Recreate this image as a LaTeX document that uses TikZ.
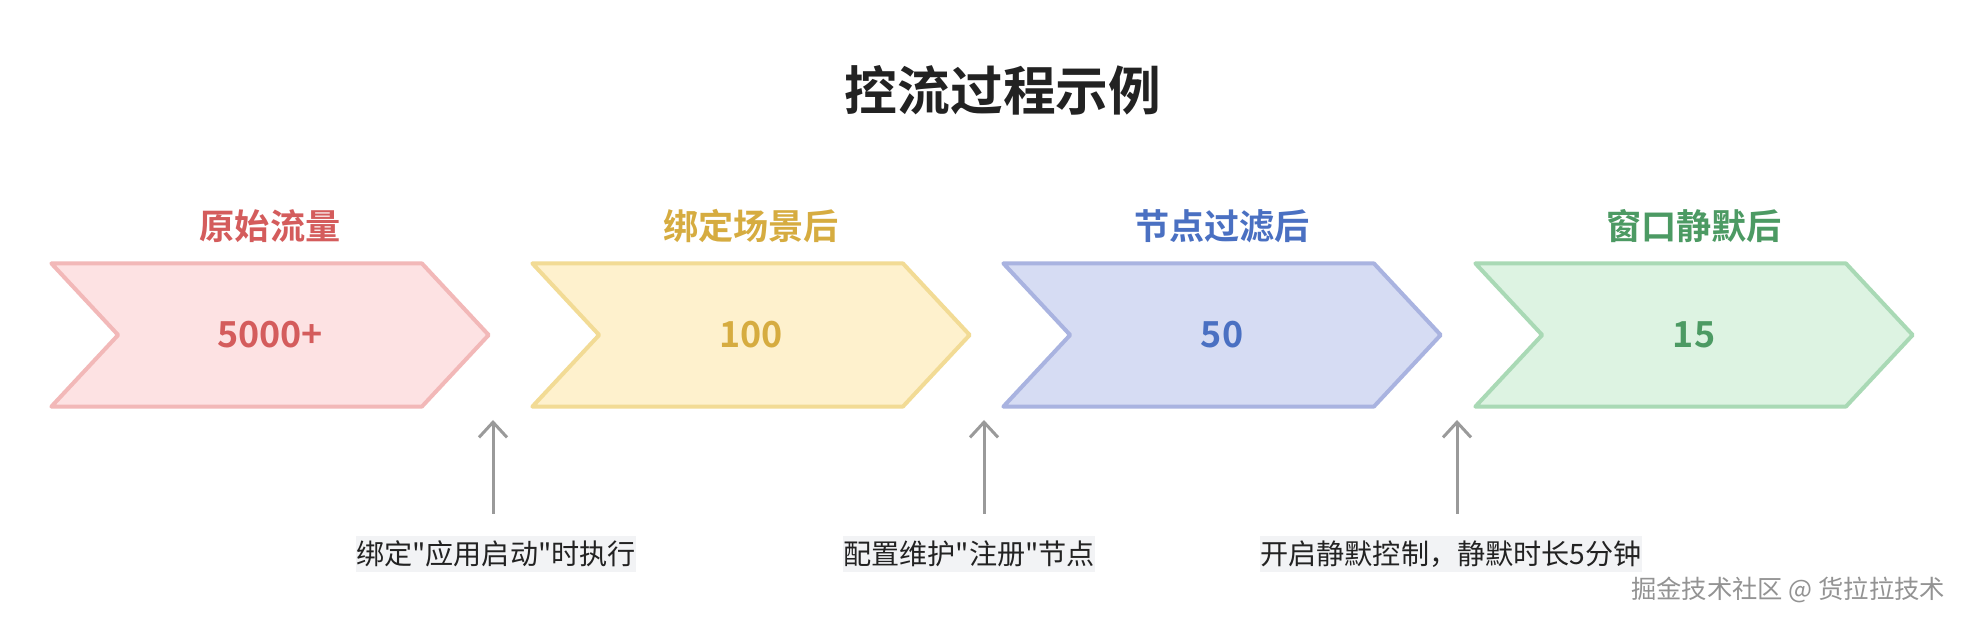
\documentclass[tikz,border=0pt]{standalone}
\usepackage{fontspec}
\setmainfont{Noto Sans CJK SC}[BoldFont={Noto Sans CJK SC Bold}, Ligatures=TeXOff]
\usetikzlibrary{positioning, arrows.meta, shapes.symbols}

\definecolor{redfill}{HTML}{FDE2E3}
\definecolor{redline}{HTML}{F2B8B8}
\definecolor{redtext}{HTML}{D45C5C}
\definecolor{goldfill}{HTML}{FEF1CD}
\definecolor{goldline}{HTML}{F2DB95}
\definecolor{goldtext}{HTML}{D6AC40}
\definecolor{bluefill}{HTML}{D6DCF3}
\definecolor{blueline}{HTML}{A9B3E0}
\definecolor{bluetext}{HTML}{4A70C2}
\definecolor{greenfill}{HTML}{DDF3E2}
\definecolor{greenline}{HTML}{A9D9B5}
\definecolor{greentext}{HTML}{4C9A63}
\definecolor{inkgray}{HTML}{222222}
\definecolor{pointergray}{HTML}{9A9A9A}
\definecolor{notefill}{HTML}{F2F3F5}

\begin{document}
\begin{tikzpicture}[x=0.025cm, y=0.025cm]

  % Styles
  \tikzset{
    stage/.style={
      signal, signal from=west, signal to=east, signal pointer angle=94,
      draw, line width=0.1cm, line join=round,
      minimum width=10.93cm, minimum height=3.58cm, inner sep=0pt,
      font=\fontsize{25.5pt}{30pt}\selectfont\bfseries
    },
    caption/.style={inner sep=0pt, font=\fontsize{25pt}{30pt}\selectfont\bfseries},
    note/.style={
      fill=notefill, inner xsep=0pt, inner ysep=0.12cm,
      text=inkgray, font=\fontsize{20pt}{24pt}\selectfont
    },
    pointer/.style={draw=pointergray, line width=0.075cm, -{Straight Barb[length=0.38cm, width=0.7cm]}}
  }

  % Canvas
  \useasboundingbox[fill=white] (0,0) rectangle (1966,624);

  % Title
  \node (title) [text=inkgray, font=\fontsize{37.5pt}{45pt}\selectfont\bfseries] at (1003,534) {控流过程示例};

  % Stages
  \node (stage1) [stage, draw=redline, fill=redfill, text=redtext] at (270,289) {5000+};
  \node (stage2) [stage, draw=goldline, fill=goldfill, text=goldtext] at (751,289) {100};
  \node (stage3) [stage, draw=blueline, fill=bluefill, text=bluetext] at (1222,289) {50};
  \node (stage4) [stage, draw=greenline, fill=greenfill, text=greentext] at (1694,289) {15};

  % Stage captions
  \node (head1) [caption, text=redtext, above=0.45cm of stage1] {原始流量};
  \node (head2) [caption, text=goldtext, above=0.45cm of stage2] {绑定场景后};
  \node (head3) [caption, text=bluetext, above=0.45cm of stage3] {节点过滤后};
  \node (head4) [caption, text=greentext, above=0.45cm of stage4] {窗口静默后};

  % Notes under the gaps
  \node (note1) [note] at (496,70) {绑定"应用启动"时执行};
  \node (note2) [note] at (969,70) {配置维护"注册"节点};
  \node (note3) [note] at (1451,70) {开启静默控制，静默时长5分钟};

  % Arrow heads end here
  \coordinate (gate1) at (493,204);
  \coordinate (gate2) at (984,204);
  \coordinate (gate3) at (1457,204);

  % Arrows: notes to gaps
  \draw[pointer, shorten <=0.55cm] (note1.north -| gate1) -- (gate1);
  \draw[pointer, shorten <=0.55cm] (note2.north -| gate2) -- (gate2);
  \draw[pointer, shorten <=0.55cm] (note3.north -| gate3) -- (gate3);

  % Site mark
  \node (site) [anchor=east, text=gray!85, font=\fontsize{18pt}{22pt}\selectfont] at (1950,34) {掘金技术社区 @ 货拉拉技术};

\end{tikzpicture}
\end{document}
